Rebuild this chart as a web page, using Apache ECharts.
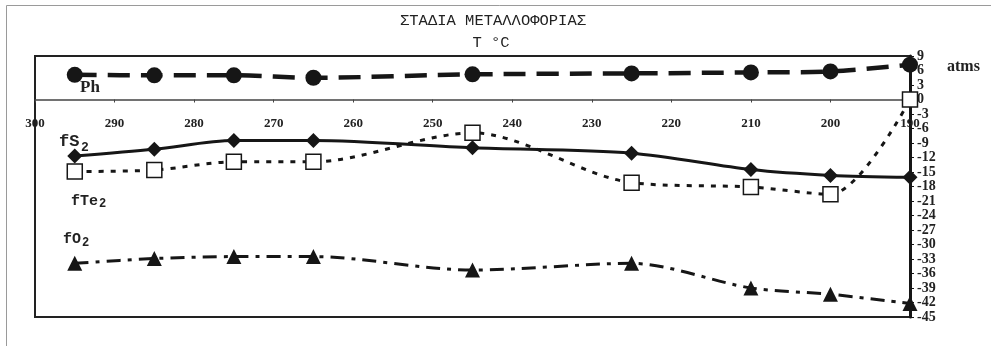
<!DOCTYPE html>
<html>
<head>
<meta charset="utf-8">
<script src="https://cdn.jsdelivr.net/npm/echarts@6/dist/echarts.min.js"></script>
<style>
  html, body { margin: 0; padding: 0; background: #fff; }
  #chart { width: 991px; height: 346px; }
</style>
</head>
<body>
<div id="chart"></div>
<script>
// Temperature stages (°C) and the fugacities / pH at each stage
var temps = [295, 285, 275, 265, 245, 225, 210, 200, 190];
var ph    = [5.1, 5.0, 5.0, 4.5, 5.2, 5.4, 5.6, 5.8, 7.2];
var fS2   = [-11.7, -10.3, -8.5, -8.5, -10.0, -11.1, -14.5, -15.7, -16.1];
var fTe2  = [-14.9, -14.6, -12.9, -12.9, -6.9, -17.2, -18.1, -19.6, 0];
var fO2   = [-33.9, -32.9, -32.5, -32.5, -35.3, -33.9, -39.0, -40.3, -42.2];

// Axis ranges
var xMin = 190, xMax = 300, xStep = 10;
var yMin = -45, yMax = 9, yStep = 3;

// Plot box
var gridTop = 56, gridBottom = 29, chartH = 346;
var plotH = chartH - gridTop - gridBottom;
// temperature axis sits on the zero line of the right-hand axis
var zeroFromBottom = plotH * (0 - yMin) / (yMax - yMin);

function pairs(vals) {
  return temps.map(function (t, i) { return [t, vals[i]]; });
}

var ink = '#161616';
var serif = '"Liberation Serif", "Times New Roman", serif';
var mono = '"Liberation Mono", "Courier New", monospace';

function lineSeries(name, vals, symbol, size, lineType, width, fill) {
  return {
    name: name,
    type: 'line',
    data: pairs(vals),
    smooth: 0.3,
    symbol: symbol,
    symbolSize: size,
    showSymbol: true,
    itemStyle: { color: fill, borderColor: ink, borderWidth: fill === '#fff' ? 1.5 : 0 },
    lineStyle: { color: ink, width: width, type: lineType },
    z: 3
  };
}

function txt(x, y, s, size, family, weight) {
  return {
    type: 'text', x: x, y: y,
    style: { text: s, fill: '#222', font: (weight || 'bold') + ' ' + size + 'px ' + family, textVerticalAlign: 'middle' },
    z: 10
  };
}

var chart = echarts.init(document.getElementById('chart'));
chart.setOption({
  animation: false,
  backgroundColor: '#fff',
  grid: {
    left: 35, right: 81, top: gridTop, bottom: gridBottom,
    show: true, borderColor: '#222', borderWidth: 2, backgroundColor: 'transparent'
  },
  xAxis: {
    type: 'value', min: xMin, max: xMax, interval: xStep, inverse: true,
    position: 'bottom', offset: -zeroFromBottom,
    axisLine: { show: true, onZero: false, lineStyle: { color: '#444', width: 1.5 } },
    axisTick: { show: true, length: 3, lineStyle: { color: '#444' } },
    axisLabel: { margin: 18, color: '#222', fontFamily: serif, fontWeight: 'bold', fontSize: 13 },
    splitLine: { show: false }
  },
  yAxis: {
    type: 'value', position: 'right', min: yMin, max: yMax, interval: yStep,
    axisLine: { show: true, onZero: false, lineStyle: { color: ink, width: 3 } },
    axisTick: { show: true, length: 4, lineStyle: { color: ink } },
    axisLabel: { margin: 7, color: '#222', fontFamily: serif, fontWeight: 'bold', fontSize: 14 },
    splitLine: { show: false }
  },
  series: [
    lineSeries('Ph', ph, 'circle', 16, [22, 11], 4.5, ink),
    lineSeries('fS2', fS2, 'diamond', 15, 'solid', 3, ink),
    lineSeries('fTe2', fTe2, 'rect', 15, [5, 7], 3, '#fff'),
    lineSeries('fO2', fO2, 'triangle', 15, [14, 7, 4, 7], 3, ink)
  ],
  graphic: [
    // outer frame
    { type: 'rect', shape: { x: 6.5, y: 5.5, width: 1000, height: 400 },
      style: { fill: 'none', stroke: '#9a9a9a', lineWidth: 1 }, z: 0 },
    // titles
    { type: 'text', x: 493, y: 21,
      style: { text: 'ΣΤΑΔΙΑ ΜΕΤΑΛΛΟΦΟΡΙΑΣ', fill: '#222', font: '15.5px ' + mono,
               textAlign: 'center', textVerticalAlign: 'middle' }, z: 10 },
    { type: 'text', x: 491, y: 43,
      style: { text: 'T °C', fill: '#222', font: '15.5px ' + mono,
               textAlign: 'center', textVerticalAlign: 'middle' }, z: 10 },
    { type: 'text', x: 947, y: 67,
      style: { text: 'atms', fill: '#222', font: 'bold 16px ' + serif, textVerticalAlign: 'middle' }, z: 10 },
    // series labels
    txt(80, 88, 'Ph', 17, serif),
    txt(59, 142, 'fS', 17, mono),
    txt(81, 148, '2', 13, mono),
    txt(71, 201, 'fTe', 15, mono),
    txt(99, 204, '2', 12, mono),
    txt(63, 239, 'fO', 15, mono),
    txt(82, 243, '2', 12, mono)
  ]
});
</script>
</body>
</html>
